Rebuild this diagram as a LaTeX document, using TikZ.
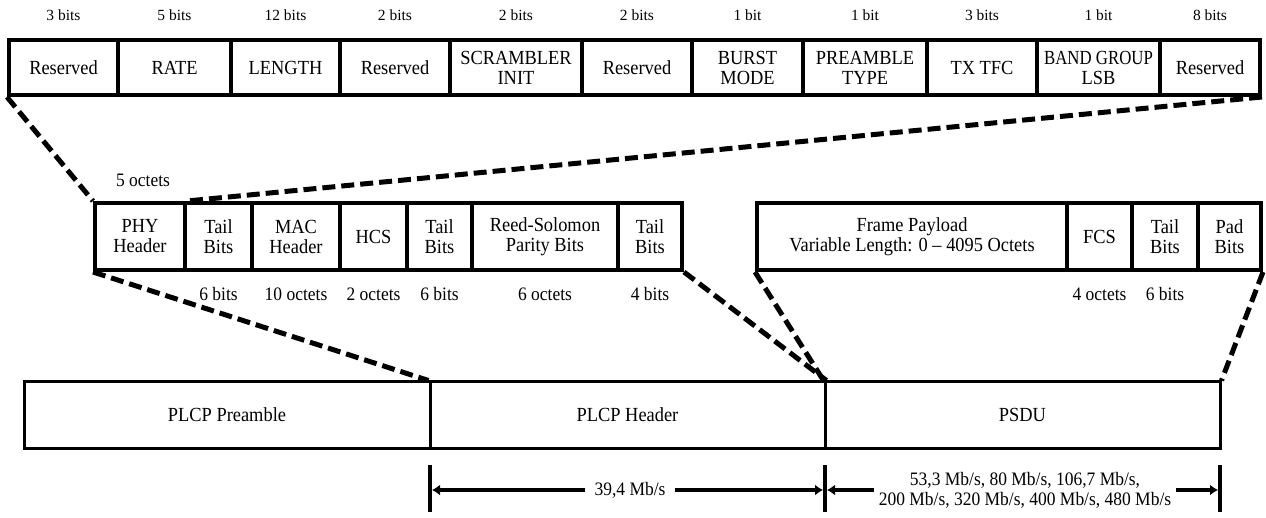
\documentclass[tikz,border=0pt]{standalone}
\usepackage{fontspec}
\setmainfont{Liberation Serif}
\newfontfamily\bx{Liberation Serif}[FakeStretch=0.92,Ligatures=TeX]
\newfontfamily\bxn{Liberation Serif}[FakeStretch=0.84,Ligatures=TeX]
\usetikzlibrary{arrows.meta}
\newcommand\boxfont{\bx\fontsize{20}{20}\selectfont}
\newcommand\lblfont{\bx\fontsize{19}{20}\selectfont}
\newcommand\bitfont{\fontsize{15.5}{15.5}\selectfont}
\newcommand\mycell[7][cell]{\node[#1, minimum width={(#4)-(#3)}, minimum height={(#6)-(#5)}] (#2) at ({((#3)+(#4))/2},{((#5)+(#6))/2}) {#7};}
\tikzset{
  cell/.style={draw, line width=4pt, inner sep=0pt, align=center, font=\boxfont},
  cellb/.style={draw, line width=3pt, inner sep=0pt, align=center, font=\boxfont},
  bitlbl/.style={font=\bitfont, inner sep=0pt},
  lbl/.style={font=\lblfont, align=center},
  dashln/.style={line width=5pt, dash pattern=on 13pt off 6pt},
  bar/.style={line width=4pt},
  rate/.style={line width=4pt, -{Latex[length=8pt,width=11pt]}, shorten >=2pt},
}
\begin{document}
\begin{tikzpicture}[x=1pt,y=-1pt]
\useasboundingbox (0,0) rectangle (1266,518);
% top row
\mycell{t1}{9}{118}{40}{95}{Reserved}
\mycell{t2}{118}{231}{40}{95}{RATE}
\mycell{t3}{231}{340}{40}{95}{LENGTH}
\mycell{t4}{340}{450}{40}{95}{Reserved}
\mycell{t5}{450}{582}{40}{95}{SCRAMBLER\\INIT}
\mycell{t6}{582}{692}{40}{95}{Reserved}
\mycell{t7}{692}{803}{40}{95}{BURST\\MODE}
\mycell{t8}{803}{927}{40}{95}{PREAMBLE\\TYPE}
\mycell{t9}{927}{1037}{40}{95}{TX TFC}
\mycell{t10}{1037}{1160}{40}{95}{{\bxn BAND GROUP}\\LSB}
\mycell{t11}{1160}{1260}{40}{95}{Reserved}
\node[bitlbl] (bt1) at ([yshift=23pt]t1.north) {3 bits};
\node[bitlbl] (bt2) at ([yshift=23pt]t2.north) {5 bits};
\node[bitlbl] (bt3) at ([yshift=23pt]t3.north) {12 bits};
\node[bitlbl] (bt4) at ([yshift=23pt]t4.north) {2 bits};
\node[bitlbl] (bt5) at ([yshift=23pt]t5.north) {2 bits};
\node[bitlbl] (bt6) at ([yshift=23pt]t6.north) {2 bits};
\node[bitlbl] (bt7) at ([yshift=23pt]t7.north) {1 bit};
\node[bitlbl] (bt8) at ([yshift=23pt]t8.north) {1 bit};
\node[bitlbl] (bt9) at ([yshift=23pt]t9.north) {3 bits};
\node[bitlbl] (bt10) at ([yshift=23pt]t10.north) {1 bit};
\node[bitlbl] (bt11) at ([yshift=23pt]t11.north) {8 bits};
% middle row, left group
\mycell{m1}{95}{185}{203}{270}{PHY\\Header}
\mycell{m2}{185}{252}{203}{270}{Tail\\Bits}
\mycell{m3}{252}{340}{203}{270}{MAC\\Header}
\mycell{m4}{340}{407}{203}{270}{HCS}
\mycell{m5}{407}{472}{203}{270}{Tail\\Bits}
\mycell{m6}{472}{618}{203}{270}{Reed-Solomon\\Parity Bits}
\mycell{m7}{618}{682}{203}{270}{Tail\\Bits}
% middle row, right group
\mycell{p1}{757}{1067}{203}{270}{Frame Payload\\Variable Length: 0 – 4095 Octets}
\mycell{p2}{1067}{1132}{203}{270}{FCS}
\mycell{p3}{1132}{1198}{203}{270}{Tail\\Bits}
\mycell{p4}{1198}{1261}{203}{270}{Pad\\Bits}
\node[lbl, inner sep=0pt] (l0) at (143,180) {5 octets};
\node[lbl, inner sep=0pt] (l2) at ([yshift=-22pt]m2.south) {6 bits};
\node[lbl, inner sep=0pt] (l3) at ([yshift=-22pt]m3.south) {10 octets};
\node[lbl, inner sep=0pt] (l4) at ([yshift=-22pt]m4.south) {2 octets};
\node[lbl, inner sep=0pt] (l5) at ([yshift=-22pt]m5.south) {6 bits};
\node[lbl, inner sep=0pt] (l6) at ([yshift=-22pt]m6.south) {6 octets};
\node[lbl, inner sep=0pt] (l7) at ([yshift=-22pt]m7.south) {4 bits};
\node[lbl, inner sep=0pt] (q2) at ([yshift=-22pt]p2.south) {4 octets};
\node[lbl, inner sep=0pt] (q3) at ([yshift=-22pt]p3.south) {6 bits};
% bottom row
\mycell[cellb]{pre}{24}{430}{382}{448}{PLCP Preamble}
\mycell[cellb]{hdr}{430}{825}{382}{448}{PLCP Header}
\mycell[cellb]{psdu}{825}{1220}{382}{448}{PSDU}
% dashed expansion lines
\draw[dashln] (t1.south west) -- (m1.north west);
\draw[dashln] (t11.south east) -- (m1.north east);
\draw[dashln] (m1.south west) -- (hdr.north west);
\draw[dashln] (m7.south east) -- (hdr.north east);
\draw[dashln] (p1.south west) -- (psdu.north west);
\draw[dashln] (p4.south east) -- (psdu.north east);
% rate bars
\coordinate (v1t) at (430,465); \coordinate (v1) at (430,490); \coordinate (v1b) at (430,512);
\coordinate (v2t) at (825,465); \coordinate (v2) at (825,490); \coordinate (v2b) at (825,512);
\coordinate (v3t) at (1220,465); \coordinate (v3) at (1220,490); \coordinate (v3b) at (1220,512);
\draw[bar] (v1t) -- (v1b);
\draw[bar] (v2t) -- (v2b);
\draw[bar] (v3t) -- (v3b);
\node[lbl, inner sep=9pt] (r1) at (630,490) {39,4 Mb/s};
\node[lbl, inner sep=5pt] (r2) at (1025,490) {53,3 Mb/s, 80 Mb/s, 106,7 Mb/s,\\200 Mb/s, 320 Mb/s, 400 Mb/s, 480 Mb/s};
\draw[rate] (r1.west) -- (v1);
\draw[rate] (r1.east) -- (v2);
\draw[rate] (r2.west) -- (v2);
\draw[rate] (r2.east) -- (v3);
\end{tikzpicture}
\end{document}
